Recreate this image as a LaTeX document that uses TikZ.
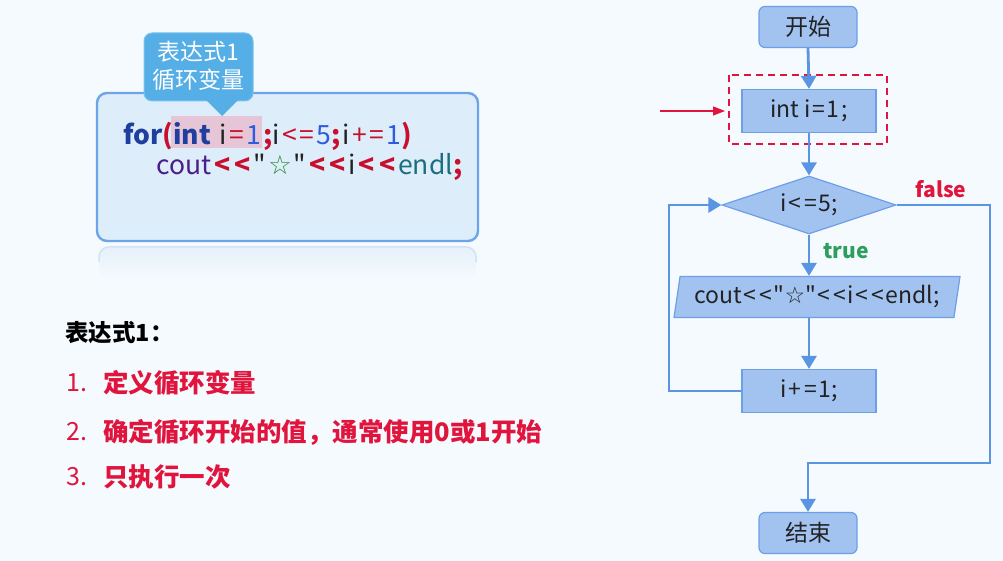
\documentclass[tikz,border=0pt]{standalone}
\usepackage{fontspec}
\setmainfont{Noto Sans CJK SC}[Ligatures=TeXOff]
\newfontfamily\symfont{DejaVu Sans}
\usetikzlibrary{arrows.meta,shapes.geometric,calc}
\definecolor{bg}{HTML}{F5FAFE}
\definecolor{codefill}{HTML}{DDEEFA}
\definecolor{codeborder}{HTML}{6BA5E8}
\definecolor{reflect}{HTML}{E6F0FA}
\definecolor{reflectline}{HTML}{D2E3F6}
\definecolor{callout}{HTML}{55AEE5}
\definecolor{calloutborder}{HTML}{7CC2EE}
\definecolor{hl}{HTML}{E6C6D6}
\definecolor{kwblue}{HTML}{1F3F9F}
\definecolor{opred}{HTML}{C8102E}
\definecolor{numblue}{HTML}{2E5BE0}
\definecolor{purp}{HTML}{4A1E8C}
\definecolor{teal}{HTML}{1A6E7F}
\definecolor{stargreen}{HTML}{2E8B3A}
\definecolor{flowfill}{HTML}{A2C3F0}
\definecolor{flowborder}{HTML}{6E9FE6}
\definecolor{arrowblue}{HTML}{5A95E3}
\definecolor{textred}{HTML}{E0143C}
\definecolor{truegreen}{HTML}{2E9E5E}
\definecolor{dark}{HTML}{222222}
\newcommand\kwd[1]{\textcolor{kwblue}{\bfseries #1}}
\newcommand\opr[1]{\textcolor{opred}{\kern2.5pt#1\kern2.5pt}}
\newcommand\opb[1]{\textcolor{opred}{\bfseries #1}}
\newcommand\num[1]{\textcolor{numblue}{#1}}
\newcommand\vr[1]{\textcolor{dark}{#1}}
\newcommand\sop[1]{\kern1.5pt#1\kern1.5pt}
\newcommand\shl{\opb{\kern3pt<\kern4pt<\kern3pt}}
\tikzset{
  flowbox/.style={draw=flowborder, fill=flowfill, line width=1.2pt, text=dark, font=\fontsize{23}{26}\selectfont, inner sep=0pt},
  termbox/.style={flowbox, rounded corners=6pt, minimum width=98pt, minimum height=41pt},
  procbox/.style={flowbox, minimum width=134pt, minimum height=43pt},
  conn/.style={draw=arrowblue, line width=2.8pt, -{Triangle[width=15pt,length=13pt]}},
  listtxt/.style={anchor=west, inner sep=0pt, font=\fontsize{25}{28}\selectfont},
  listbold/.style={listtxt, font=\fontsize{25.5}{28}\selectfont\bfseries},
}
\begin{document}
\begin{tikzpicture}[x=1pt,y=-1pt]
\useasboundingbox (0,0) rectangle (1003,561);
\fill[bg] (0,0) rectangle (1003,561);
% faint reflection of the code box
\shade[rounded corners=10pt, top color=reflect, bottom color=bg] (99,246) rectangle (476,280);
\draw[reflectline, line width=1.5pt, rounded corners=10pt] (99,262) -- (99,247) -- (476,247) -- (476,262);
% code box
\draw[codeborder, line width=2.4pt, fill=codefill, rounded corners=10pt] (97,93) rectangle (478,241);
\fill[hl] (171,116) rectangle (262,148);
% callout
\draw[calloutborder, line width=1pt, fill=callout, rounded corners=8pt] (144,33) rectangle (253,101);
\fill[callout] (206,100) -- (238,100) -- (222,116) -- cycle;
\node[text=white, align=center, font=\fontsize{23}{28}\selectfont, inner sep=0pt] (callouttxt) at (198,66) {表达式1\\循环变量};
% code lines
\node[anchor=base west, inner sep=0pt, font=\fontsize{26.5}{30}\selectfont] (code1) at (123,145)
 {\kwd{for}\opb{(}\kwd{int}\kern9pt\vr{i}\opr{=}\num{1}\opb{\kern2pt;}\vr{i}\opr{<\kern2pt=}\num{5}\opb{;}\kern2pt\vr{i}\opr{+\kern2pt=}\num{1}\opb{)}};
\node[anchor=base west, inner sep=0pt, font=\fontsize{26.5}{30}\selectfont] (code2) at (156,175)
 {\textcolor{purp}{cout}\shl\vr{"}\textcolor{stargreen}{\kern2pt\symfont ☆\kern2pt}\vr{"}\shl\vr{i}\shl\textcolor{teal}{endl}\opb{;}};
% left text
\node[listtxt, font=\fontsize{23.5}{26}\selectfont\bfseries, text=black] (t0) at (65,333) {表达式1：};
\node[listtxt, text=textred] (n1) at (66,383) {1.};
\node[listbold, text=textred] (l1) at (103,383) {定义循环变量};
\node[listtxt, text=textred] (n2) at (66,432) {2.};
\node[listbold, text=textred] (l2) at (103,432) {确定循环开始的值，通常使用0或1开始};
\node[listtxt, text=textred] (n3) at (66,477) {3.};
\node[listbold, text=textred] (l3) at (103,477) {只执行一次};
% flowchart
\node[termbox] (start) at (808,27) {开始};
\draw[textred, line width=1.5pt, dash pattern=on 7pt off 5pt] (729,75) rectangle (887,144);
\node[procbox] (init) at (809,111) {int i\sop{=}1\kern2pt;};
\coordinate (redtail) at (660,111);
\draw[textred, line width=1.2pt, -{Triangle[width=9pt,length=12pt]}] (redtail) -- (725,111);
\node[flowbox, diamond, aspect=3, minimum width=174pt, minimum height=58pt] (cond) at (809,205) {i\sop{<}\sop{=}5;};
\node[flowbox, trapezium, trapezium left angle=75, trapezium right angle=105, trapezium stretches body, minimum width=286pt, minimum height=41pt] (out) at (817,297) {cout\sop{<}\sop{<}"{\symfont ☆}"\sop{<}\sop{<}i\sop{<}\sop{<}endl;};
\node[procbox] (inc) at (809,391) {i\sop{+}\sop{=}1;};
\node[termbox] (end) at (808,533) {结束};
\coordinate (jl) at (669,391);
\coordinate (jlt) at (669,205);
\coordinate (jr) at (990,205);
\coordinate (jrb) at (990,463);
\coordinate (jb) at (808,463);
\draw[conn] (start.south) -- (init.north);
\draw[conn] (init.south) -- (cond.north);
\draw[conn] (cond.south) -- (cond.south |- out.north);
\draw[conn] (cond.south |- out.south) -- (inc.north);
\draw[conn] (inc.west) -- (jl) -- (jlt) -- (cond.west);
\draw[conn] (cond.east) -- (jr) -- (jrb) -- (jb) -- (end.north);
\node[text=textred, font=\fontsize{21}{24}\selectfont\bfseries, inner sep=0pt] (falselbl) at (941,189) {false};
\node[text=truegreen, font=\fontsize{21}{24}\selectfont\bfseries, inner sep=0pt] (truelbl) at (846,251) {true};
\end{tikzpicture}
\end{document}
